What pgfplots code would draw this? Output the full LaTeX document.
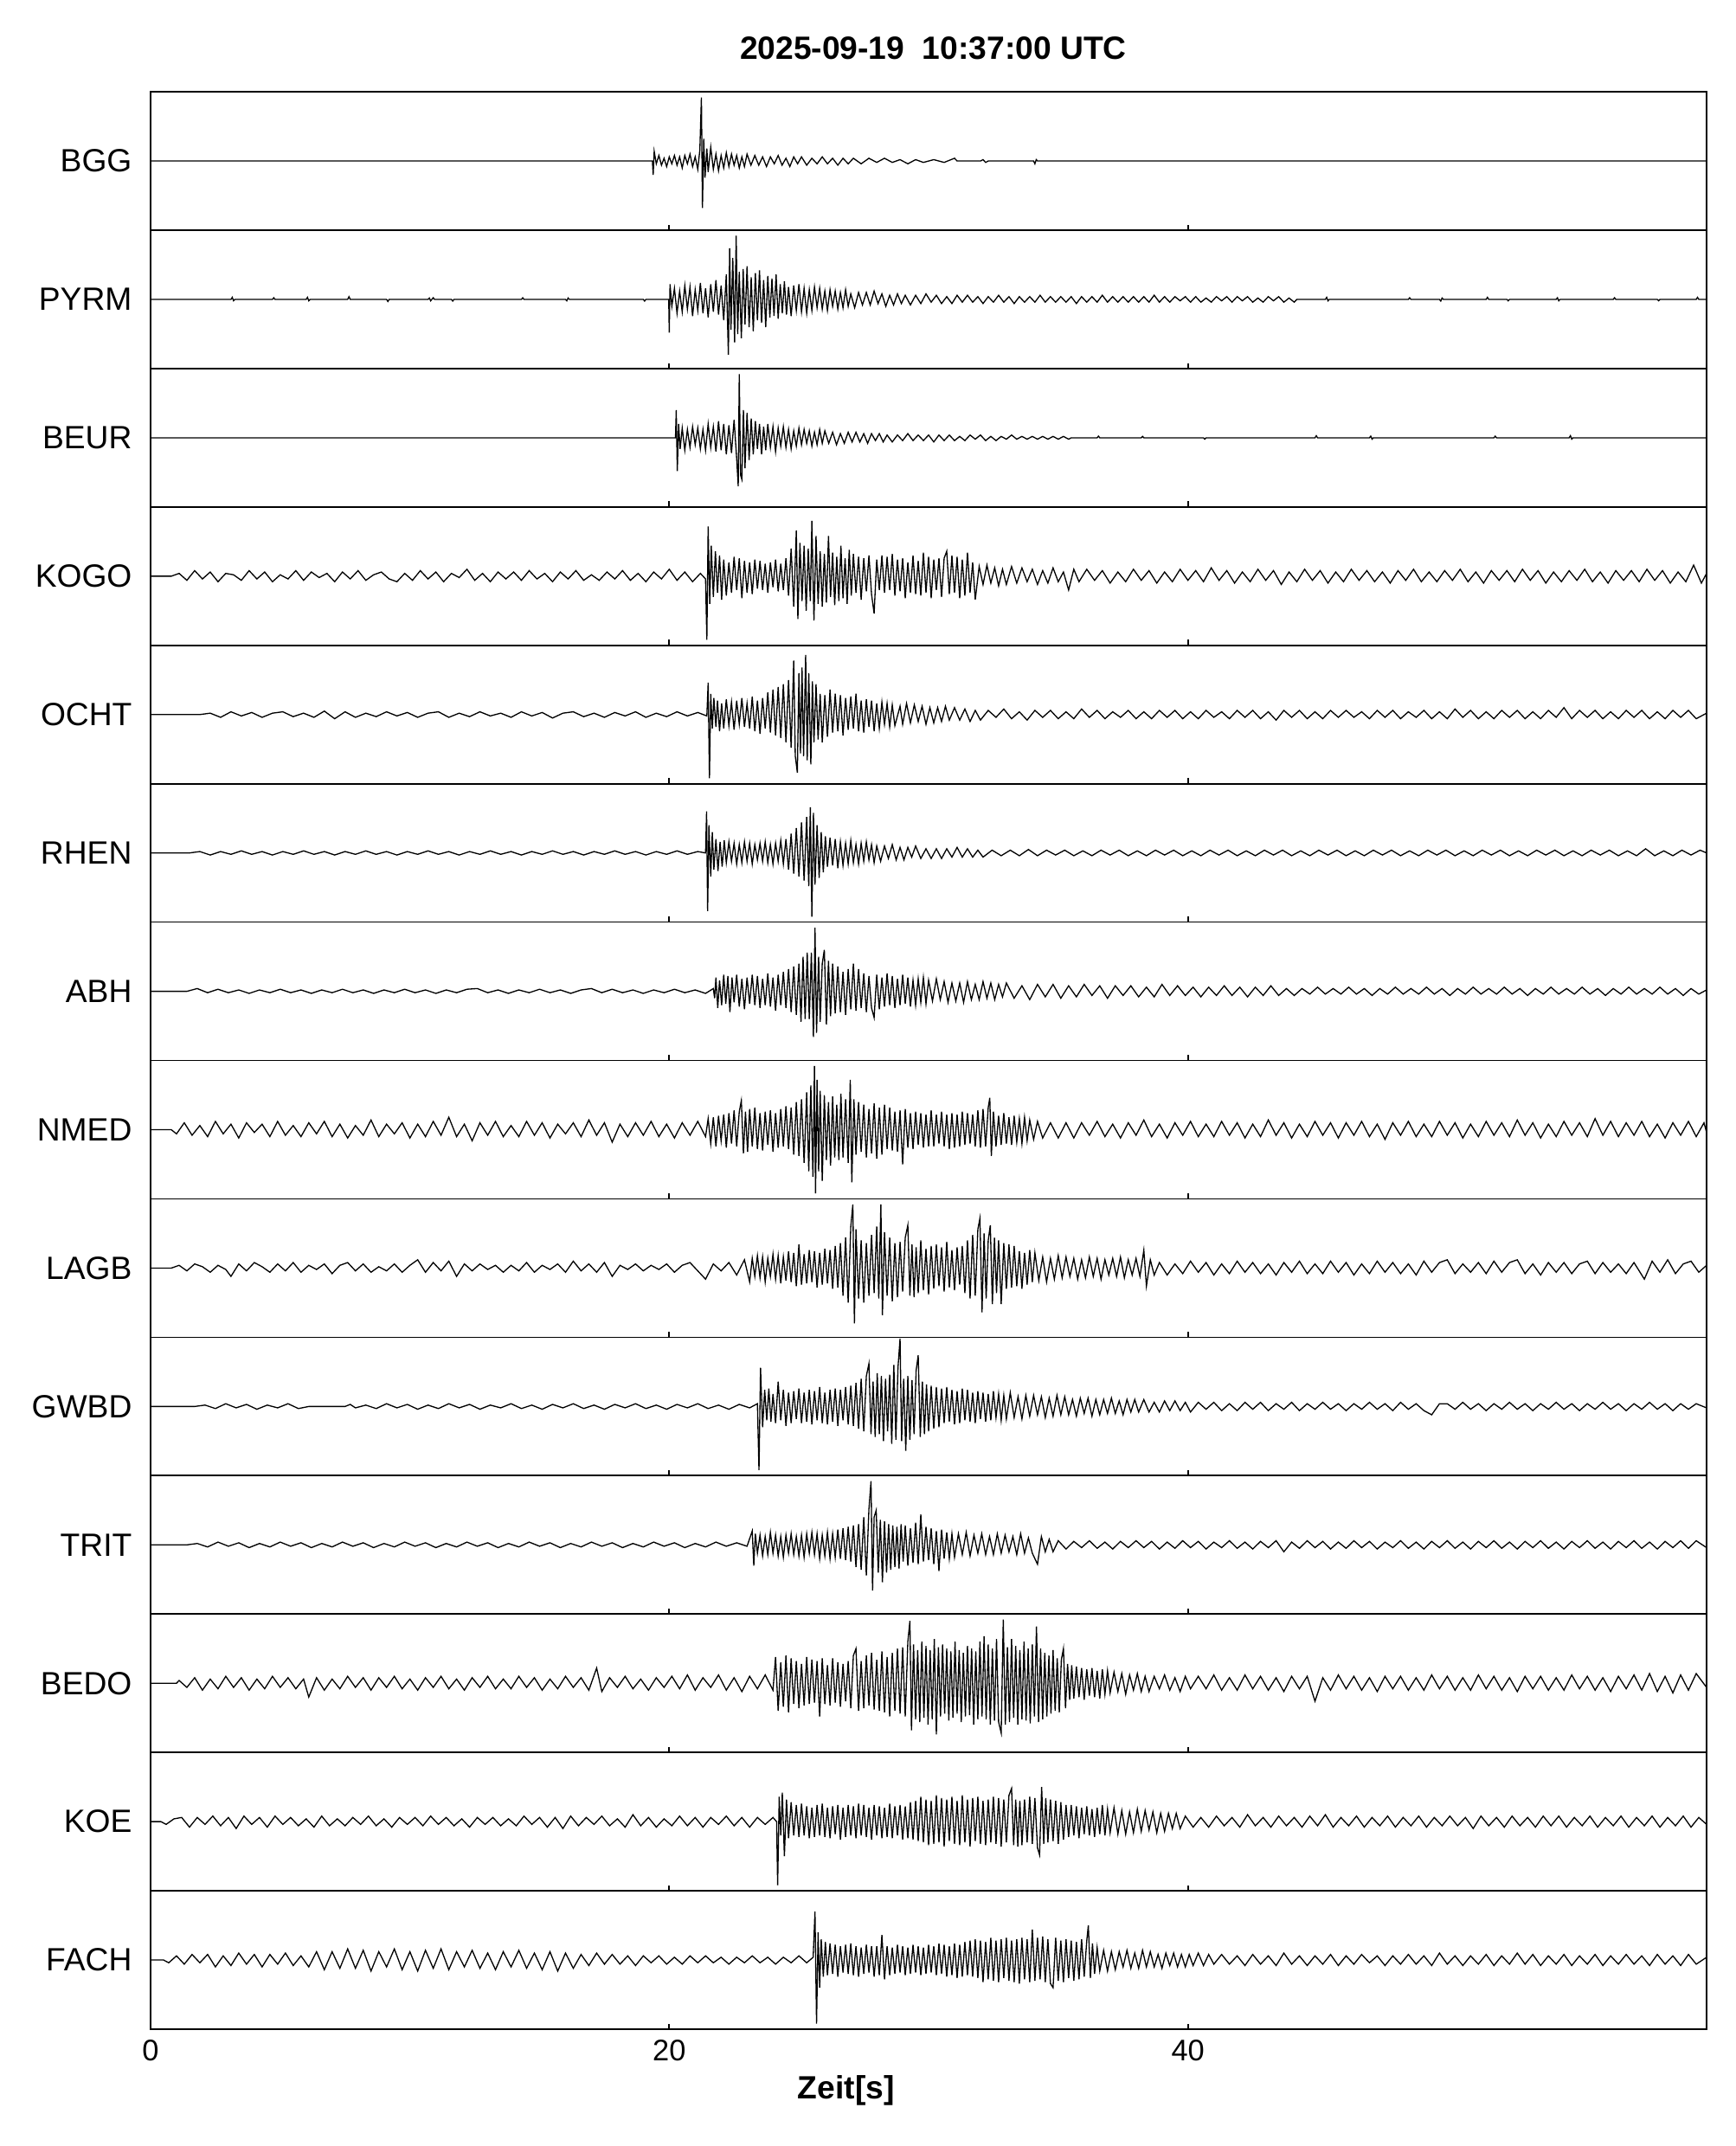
\documentclass[border=0pt]{standalone}
\usepackage{fontspec}
\setmainfont{Liberation Sans}
\usepackage{pgfplots}
\pgfplotsset{compat=1.18}
\usepgfplotslibrary{groupplots}
\begin{document}
\begin{tikzpicture}
\begin{groupplot}[
  group style={group size=1 by 14, vertical sep=0pt, xticklabels at=edge bottom},
  width=449.5pt, height=39.98pt, scale only axis,
  xmin=0, xmax=60, ymin=-0.5, ymax=0.5,
  xtick={0,20,40}, xtick pos=bottom, tick align=inside, major tick length=1.6pt,
  xtick style={black, line width=0.42pt},
  ytick={0}, ytick style={draw=none},
  yticklabel style={font=\fontsize{9.3}{11}\selectfont, anchor=east, inner sep=0pt, xshift=-5.2pt},
  xticklabel style={font=\fontsize{8.6}{10}\selectfont, anchor=north, inner sep=0pt, yshift=-2.8pt},
  /pgf/number format/assume math mode=true,
  axis line style={line width=0.42pt},
  every axis plot post/.append style={black, line width=0.33pt, mark=none},
]
%----------------------------------------------------- BGG
\nextgroupplot[yticklabels={BGG}, title={2025-09-19\ \ 10:37:00 UTC},
  title style={at={(0.503,1)}, anchor=base, yshift=3.5pt, inner sep=0pt, font=\fontsize{9.3}{11}\selectfont\bfseries}]
\addplot table {
0 0
19.35 0
19.38 -.1
19.42 .07
19.5 -.02
19.6 .04
19.7 -.03
19.8 .02
19.9 -.04
20.0 .03
20.1 -.02
20.2 .04
20.3 -.03
20.4 .03
20.5 -.05
20.6 .04
20.7 -.02
20.8 .05
20.9 -.04
21.0 .03
21.1 -.06
21.18 .08
21.24 .46
21.28 -.34
21.33 .16
21.38 -.12
21.45 .09
21.5 -.08
21.6 .1
21.7 -.06
21.8 .05
21.9 -.07
22.0 .04
22.1 -.05
22.2 .06
22.3 -.04
22.4 .05
22.5 -.03
22.6 .04
22.7 -.05
22.8 .03
22.9 -.04
23.0 .05
23.15 -.03
23.3 .04
23.45 -.03
23.6 .03
23.75 -.04
23.9 .03
24.05 -.02
24.2 .04
24.35 -.03
24.5 .02
24.65 -.04
24.8 .03
24.95 -.02
25.1 .03
25.3 -.03
25.5 .02
25.7 -.02
25.9 .03
26.1 -.02
26.3 .02
26.5 -.03
26.7 .02
26.9 -.02
27.1 .02
27.4 -.02
27.7 .02
28.0 -.01
28.3 .02
28.6 -.01
28.9 .01
29.2 -.02
29.5 .01
29.8 -.01
30.2 .01
30.6 -.01
31.0 .02
31.1 0
32.0 0
32.1 .01
32.2 -.01
32.3 0
34.05 0
34.1 -.02
34.15 .01
34.2 0
60 0
};
%----------------------------------------------------- PYRM
\nextgroupplot[yticklabels={PYRM}]
\addplot table {
0 0
3.1 0
3.15 .015
3.2 -.01
3.25 0
4.7 0
4.75 .012
4.8 0
6.0 0
6.05 .015
6.1 -.01
6.15 0
7.6 0
7.65 .02
7.7 0
9.1 0
9.15 -.015
9.2 0
10.7 0
10.75 .01
10.8 -.01
10.9 .012
10.95 0
11.6 0
11.65 -.012
11.7 0
14.3 0
14.35 .012
14.4 0
16.0 0
16.05 -.01
16.1 .01
16.15 0
19.0 0
19.05 -.012
19.1 0
19.98 0
20.0 -.24
20.03 .11
20.1 -.05
20.2 .08
20.3 -.1
20.4 .06
20.5 -.09
20.6 .1
20.7 -.07
20.8 .09
20.9 -.12
21.0 .07
21.1 -.08
21.2 .12
21.3 -.1
21.4 .08
21.5 -.13
21.6 .11
21.7 -.09
21.8 .14
21.9 -.11
22.0 .1
22.1 -.15
22.2 .18
22.28 -.4
22.33 .37
22.38 -.22
22.45 .3
22.52 -.31
22.58 .46
22.64 -.25
22.7 .2
22.78 -.28
22.85 .22
22.92 -.18
23.0 .24
23.08 -.2
23.16 .16
23.24 -.23
23.32 .19
23.4 -.15
23.48 .21
23.56 -.17
23.64 .14
23.72 -.2
23.8 .17
23.88 -.13
23.96 .15
24.04 -.12
24.12 .18
24.2 -.14
24.28 .11
24.36 -.1
24.44 .13
24.52 -.11
24.6 .09
24.7 -.12
24.8 .1
24.9 -.08
25.0 .11
25.1 -.09
25.2 .08
25.3 -.1
25.4 .07
25.5 -.08
25.6 .09
25.7 -.06
25.8 .08
25.9 -.07
26.0 .06
26.1 -.08
26.2 .07
26.3 -.05
26.4 .06
26.5 -.07
26.6 .05
26.7 -.06
26.8 .07
26.9 -.05
27.0 .04
27.15 -.06
27.3 .05
27.45 -.04
27.6 .05
27.75 -.04
27.9 .06
28.05 -.03
28.2 .04
28.35 -.05
28.5 .03
28.65 -.04
28.8 .04
28.95 -.03
29.1 .03
29.3 -.04
29.5 .03
29.7 -.03
29.9 .04
30.1 -.02
30.3 .03
30.5 -.03
30.7 .02
30.9 -.03
31.1 .03
31.3 -.02
31.5 .03
31.7 -.02
31.9 .02
32.1 -.03
32.3 .02
32.5 -.02
32.7 .03
32.9 -.02
33.1 .02
33.3 -.03
33.5 .02
33.7 -.02
33.9 .02
34.1 -.02
34.3 .03
34.5 -.02
34.7 .02
34.9 -.02
35.1 .02
35.3 -.02
35.5 .02
35.7 -.03
35.9 .02
36.1 -.02
36.3 .02
36.5 -.02
36.7 .03
36.9 -.02
37.1 .02
37.3 -.02
37.5 .02
37.7 -.02
37.9 .02
38.1 -.02
38.3 .02
38.5 -.02
38.7 .03
38.9 -.02
39.1 .02
39.3 -.02
39.5 .02
39.7 -.01
39.9 .02
40.1 -.02
40.3 .02
40.5 -.02
40.7 .01
40.9 -.02
41.1 .02
41.3 -.01
41.5 .02
41.7 -.02
41.9 .02
42.1 -.01
42.3 .02
42.5 -.02
42.7 .01
42.9 -.02
43.1 .02
43.3 -.01
43.5 .02
43.7 -.02
43.9 .01
44.1 -.02
44.2 0
45.3 0
45.35 .015
45.4 -.01
45.45 0
48.5 0
48.55 .012
48.6 0
49.7 0
49.75 -.012
49.8 .01
49.85 0
51.5 0
51.55 .015
51.6 0
52.3 0
52.35 -.01
52.4 0
54.2 0
54.25 .012
54.3 -.01
54.35 0
56.4 0
56.45 .012
56.5 0
58.1 0
58.15 -.01
58.2 0
59.6 0
59.65 .015
59.7 0
60 0
};
%----------------------------------------------------- BEUR
\nextgroupplot[yticklabels={BEUR}]
\addplot table {
0 0
20.24 0
20.27 .2
20.31 -.24
20.36 .1
20.42 -.08
20.5 .07
20.6 -.09
20.7 .06
20.8 -.07
20.9 .08
21.0 -.05
21.1 .07
21.2 -.08
21.3 .06
21.4 -.09
21.5 .1
21.6 -.07
21.7 .08
21.8 -.1
21.9 .12
22.0 -.09
22.1 .1
22.2 -.12
22.3 .09
22.4 -.11
22.5 .13
22.6 -.15
22.66 -.35
22.7 .46
22.75 -.27
22.8 -.3
22.86 .2
22.92 -.22
23.0 .18
23.08 -.16
23.16 .14
23.24 -.12
23.32 .12
23.4 -.08
23.48 .1
23.56 -.12
23.64 .08
23.72 -.09
23.8 .1
23.9 -.07
24.0 .08
24.1 -.1
24.2 .07
24.3 -.06
24.4 .08
24.5 -.07
24.6 .06
24.7 -.08
24.8 .05
24.9 -.06
25.0 .07
25.1 -.05
25.2 .06
25.3 -.04
25.4 .05
25.5 -.06
25.6 .04
25.7 -.05
25.8 .06
25.9 -.04
26.0 .05
26.15 -.04
26.3 .04
26.45 -.05
26.6 .03
26.75 -.04
26.9 .04
27.05 -.03
27.2 .04
27.35 -.03
27.5 .03
27.65 -.04
27.8 .03
27.95 -.02
28.1 .03
28.25 -.03
28.4 .02
28.6 -.03
28.8 .02
29.0 -.02
29.2 .03
29.4 -.02
29.6 .02
29.8 -.02
30.0 .02
30.2 -.03
30.4 .02
30.6 -.02
30.8 .02
31.0 -.02
31.2 .01
31.4 -.02
31.6 .02
31.8 -.01
32.0 .02
32.2 -.02
32.4 .01
32.6 -.02
32.8 .01
33.0 -.01
33.2 .02
33.4 -.01
33.6 .01
33.8 -.01
34.0 .01
34.2 -.01
34.4 .01
34.6 -.01
34.8 .01
35.0 -.01
35.2 .01
35.4 -.01
35.5 0
36.5 0
36.55 .012
36.6 0
38.2 0
38.25 .01
38.3 0
40.6 0
40.65 -.01
40.7 0
44.9 0
44.95 .015
45.0 0
47.0 0
47.05 .012
47.1 -.01
47.15 0
51.8 0
51.85 .012
51.9 0
54.7 0
54.75 .015
54.8 -.01
54.85 0
60 0
};
%----------------------------------------------------- KOGO
\nextgroupplot[yticklabels={KOGO}]
\addplot table {
0 0
0.8 0
1.1 .02
1.4 -.03
1.7 .04
2.0 -.02
2.3 .03
2.6 -.04
2.9 .02
3.2 .01
3.5 -.03
3.8 .04
4.1 -.02
4.4 .03
4.7 -.04
5.0 .01
5.3 -.02
5.6 .04
5.9 -.03
6.2 .03
6.5 -.01
6.8 .02
7.1 -.04
7.4 .03
7.7 -.02
8.0 .04
8.3 -.03
8.6 .01
8.9 .03
9.2 -.02
9.5 -.04
9.8 .02
10.1 -.03
10.4 .04
10.7 -.02
11.0 .03
11.3 -.04
11.6 .02
11.9 -.01
12.2 .05
12.5 -.03
12.8 .02
13.1 -.04
13.4 .03
13.7 -.02
14.0 .03
14.3 -.03
14.6 .04
14.9 -.02
15.2 .02
15.5 -.04
15.8 .03
16.1 -.02
16.4 .04
16.7 -.03
17.0 .01
17.3 -.03
17.6 .03
17.9 -.02
18.2 .04
18.5 -.03
18.8 .02
19.1 -.04
19.4 .03
19.7 -.02
20.0 .05
20.3 -.03
20.6 .03
20.9 -.04
21.2 .02
21.4 -.02
21.45 -.46
21.5 .36
21.56 -.2
21.62 .22
21.7 -.15
21.78 .18
21.86 -.12
21.94 .15
22.02 -.17
22.1 .12
22.2 -.14
22.3 .1
22.4 -.12
22.5 .14
22.6 -.1
22.7 .13
22.8 -.16
22.9 .11
23.0 -.12
23.1 .1
23.2 -.13
23.3 .12
23.4 -.09
23.5 .11
23.6 -.1
23.7 .09
23.8 -.12
23.9 .1
24.0 -.08
24.1 .12
24.2 -.11
24.3 .09
24.4 -.1
24.5 .13
24.6 -.14
24.7 .2
24.8 -.22
24.9 .33
24.96 -.31
25.04 .24
25.12 -.18
25.2 .22
25.28 -.25
25.36 .2
25.44 -.18
25.5 .4
25.58 -.32
25.66 .29
25.74 -.2
25.82 .18
25.9 -.22
25.98 .16
26.06 -.19
26.14 .29
26.22 -.15
26.3 .17
26.38 -.21
26.46 .14
26.54 -.18
26.62 .22
26.7 -.16
26.78 .13
26.86 -.2
26.94 .19
27.02 -.14
27.1 .16
27.2 -.12
27.3 .14
27.4 -.17
27.5 .13
27.6 -.11
27.7 .15
27.8 -.13
27.9 -.27
28.0 .12
28.1 -.1
28.2 .15
28.3 -.12
28.4 .14
28.5 -.1
28.6 .16
28.7 -.14
28.8 .12
28.9 -.11
29.0 .13
29.1 -.16
29.2 .1
29.3 -.12
29.4 .15
29.5 -.13
29.6 .11
29.7 -.14
29.8 .17
29.9 -.12
30.0 .14
30.1 -.16
30.2 .12
30.3 -.1
30.4 .13
30.5 -.15
30.6 .13
30.7 .18
30.8 -.13
30.9 .15
31.0 -.12
31.1 .14
31.2 -.16
31.3 .12
31.4 -.14
31.5 .17
31.6 -.12
31.7 .1
31.8 -.17
31.95 .07
32.1 -.06
32.25 .08
32.4 -.05
32.55 .06
32.7 -.07
32.85 .05
33.0 -.06
33.2 .07
33.4 -.05
33.6 .06
33.8 -.04
34.0 .05
34.2 -.06
34.4 .04
34.6 -.05
34.8 .06
35.0 -.04
35.2 .03
35.4 -.1
35.6 .05
35.8 -.04
36.1 .05
36.4 -.03
36.7 .04
37.0 -.05
37.3 .03
37.6 -.04
37.9 .05
38.2 -.03
38.5 .04
38.8 -.05
39.1 .03
39.4 -.04
39.7 .05
40.0 -.03
40.3 .04
40.6 -.04
40.9 .06
41.2 -.03
41.5 .04
41.8 -.05
42.1 .03
42.4 -.04
42.7 .05
43.0 -.03
43.3 .04
43.6 -.06
43.9 .03
44.2 -.04
44.5 .05
44.8 -.03
45.1 .04
45.4 -.05
45.7 .03
46.0 -.04
46.3 .05
46.6 -.03
46.9 .04
47.2 -.04
47.5 .03
47.8 -.05
48.1 .04
48.4 -.03
48.7 .05
49.0 -.04
49.3 .03
49.6 -.04
49.9 .04
50.2 -.03
50.5 .05
50.8 -.04
51.1 .03
51.4 -.05
51.7 .04
52.0 -.03
52.3 .04
52.6 -.04
52.9 .05
53.2 -.03
53.5 .04
53.8 -.05
54.1 .03
54.4 -.04
54.7 .04
55.0 -.03
55.3 .05
55.6 -.04
55.9 .03
56.2 -.05
56.5 .04
56.8 -.03
57.1 .04
57.4 -.04
57.7 .05
58.0 -.03
58.3 .04
58.6 -.05
58.9 .03
59.2 -.04
59.5 .08
59.8 -.05
60 .02
};
%----------------------------------------------------- OCHT
\nextgroupplot[yticklabels={OCHT}]
\addplot table {
0 0
1.9 0
2.3 .01
2.7 -.02
3.1 .02
3.5 -.01
3.9 .015
4.3 -.02
4.7 .01
5.1 .02
5.5 -.015
5.9 .01
6.3 -.02
6.7 .025
7.1 -.03
7.5 .02
7.9 -.02
8.3 .01
8.7 -.015
9.1 .02
9.5 -.01
9.9 .015
10.3 -.02
10.7 .01
11.1 .02
11.5 -.02
11.9 .01
12.3 -.015
12.7 .02
13.1 -.01
13.5 .01
13.9 -.02
14.3 .02
14.7 -.01
15.1 .015
15.5 -.025
15.9 .01
16.3 .02
16.7 -.015
17.1 .01
17.5 -.02
17.9 .015
18.3 -.01
18.7 .02
19.1 -.02
19.5 .01
19.9 -.015
20.3 .02
20.7 -.01
21.1 .015
21.45 -.01
21.5 .23
21.55 -.46
21.6 .15
21.66 -.1
21.72 .12
21.8 -.09
21.86 .1
21.94 -.12
22.02 .08
22.1 -.1
22.2 .11
22.3 -.08
22.4 .09
22.5 -.11
22.6 .1
22.7 -.07
22.8 .12
22.9 -.09
23.0 .08
23.1 -.1
23.2 .13
23.3 -.12
23.4 .1
23.5 -.14
23.6 .12
23.7 -.1
23.8 .16
23.9 -.13
24.0 .18
24.1 -.15
24.2 .2
24.3 -.17
24.4 .22
24.5 -.2
24.6 .25
24.7 -.24
24.8 .39
24.86 -.3
24.94 -.42
25.0 .3
25.06 -.28
25.12 .34
25.18 -.3
25.26 .43
25.32 -.33
25.38 .3
25.46 -.36
25.52 .24
25.58 -.2
25.66 .22
25.74 -.18
25.82 .15
25.9 -.2
26.0 .14
26.1 -.16
26.2 .18
26.3 -.13
26.4 .15
26.5 -.12
26.6 .14
26.7 -.15
26.8 .12
26.9 -.11
27.0 .13
27.1 -.1
27.2 .15
27.3 -.12
27.4 .1
27.5 -.13
27.6 .11
27.7 -.09
27.8 .1
27.9 -.12
28.0 .08
28.1 -.1
28.2 .09
28.3 -.07
28.4 .08
28.5 -.09
28.6 .07
28.7 -.08
28.9 .06
29.0 -.07
29.15 .08
29.3 -.06
29.45 .07
29.6 -.05
29.75 .06
29.9 -.07
30.05 .05
30.2 -.06
30.35 .05
30.5 -.05
30.65 .06
30.8 -.04
31.0 .05
31.2 -.04
31.4 .04
31.6 -.05
31.8 .03
32.0 -.04
32.3 .03
32.6 -.02
32.9 .04
33.2 -.03
33.5 .02
33.8 -.04
34.1 .03
34.4 -.02
34.7 .03
35.0 -.03
35.3 .02
35.6 -.03
35.9 .04
36.2 -.02
36.5 .03
36.8 -.03
37.1 .02
37.4 -.02
37.7 .03
38.0 -.03
38.3 .02
38.6 -.03
38.9 .03
39.2 -.02
39.5 .03
39.8 -.03
40.1 .02
40.4 -.03
40.7 .03
41.0 -.02
41.3 .02
41.6 -.03
41.9 .03
42.2 -.02
42.5 .03
42.8 -.03
43.1 .02
43.4 -.04
43.7 .03
44.0 -.02
44.3 .03
44.6 -.03
44.9 .02
45.2 -.03
45.5 .03
45.8 -.02
46.1 .03
46.4 -.02
46.7 .02
47.0 -.03
47.3 .03
47.6 -.02
47.9 .03
48.2 -.03
48.5 .02
48.8 -.02
49.1 .03
49.4 -.03
49.7 .02
50.0 -.03
50.3 .04
50.6 -.02
50.9 .03
51.2 -.03
51.5 .02
51.8 -.03
52.1 .03
52.4 -.02
52.7 .03
53.0 -.03
53.3 .02
53.6 -.03
53.9 .03
54.2 -.02
54.5 .05
54.8 -.03
55.1 .03
55.4 -.02
55.7 .03
56.0 -.03
56.3 .02
56.6 -.03
56.9 .03
57.2 -.02
57.5 .03
57.8 -.03
58.1 .02
58.4 -.03
58.7 .03
59.0 -.02
59.3 .03
59.6 -.03
60 .01
};
%----------------------------------------------------- RHEN
\nextgroupplot[yticklabels={RHEN}]
\addplot table {
0 0
1.5 0
1.9 .01
2.3 -.015
2.7 .01
3.1 -.01
3.5 .015
3.9 -.01
4.3 .01
4.7 -.015
5.1 .01
5.5 -.01
5.9 .015
6.3 -.01
6.7 .01
7.1 -.015
7.5 .01
7.9 -.01
8.3 .015
8.7 -.01
9.1 .01
9.5 -.015
9.9 .01
10.3 -.01
10.7 .015
11.1 -.01
11.5 .01
11.9 -.015
12.3 .01
12.7 -.01
13.1 .015
13.5 -.01
13.9 .01
14.3 -.015
14.7 .01
15.1 -.01
15.5 .015
15.9 -.01
16.3 .01
16.7 -.015
17.1 .01
17.5 -.01
17.9 .015
18.3 -.01
18.7 .01
19.1 -.015
19.5 .01
19.9 -.01
20.3 .015
20.7 -.01
21.1 .01
21.4 0
21.44 .3
21.48 -.42
21.53 .2
21.6 -.17
21.66 .15
21.72 -.12
21.8 .1
21.88 -.13
21.96 .08
22.04 -.1
22.12 .09
22.2 -.07
22.3 .08
22.4 -.06
22.5 .07
22.6 -.08
22.7 .06
22.8 -.07
22.9 .08
23.0 -.06
23.1 .07
23.2 -.08
23.3 .06
23.4 -.05
23.5 .07
23.6 -.06
23.7 .08
23.8 -.07
23.9 .06
24.0 -.08
24.1 .07
24.2 -.06
24.3 .09
24.4 -.08
24.5 .1
24.6 -.12
24.7 .14
24.8 -.15
24.9 .18
25.0 -.17
25.1 .22
25.2 -.2
25.3 .26
25.38 -.24
25.44 .33
25.5 -.46
25.56 .29
25.62 -.23
25.7 .2
25.78 -.18
25.86 .15
25.94 -.14
26.02 .12
26.1 -.1
26.2 .11
26.3 -.09
26.4 .1
26.5 -.11
26.6 .08
26.7 -.09
26.8 .07
26.9 -.08
27.0 .09
27.1 -.07
27.2 .06
27.3 -.08
27.4 .07
27.5 -.06
27.6 .08
27.7 -.05
27.8 .06
27.9 -.07
28.0 .05
28.15 -.06
28.3 .05
28.45 -.04
28.6 .06
28.75 -.05
28.9 .04
29.05 -.05
29.2 .04
29.35 -.03
29.5 .05
29.7 -.04
29.9 .03
30.1 -.04
30.3 .03
30.5 -.04
30.7 .03
30.9 -.03
31.1 .04
31.3 -.03
31.5 .03
31.7 -.03
31.9 .02
32.1 -.03
32.45 .02
32.8 -.02
33.15 .02
33.5 -.02
33.85 .025
34.2 -.02
34.55 .02
34.9 -.015
35.25 .02
35.6 -.02
35.95 .015
36.3 -.02
36.65 .02
37.0 -.015
37.35 .02
37.7 -.02
38.05 .015
38.4 -.02
38.75 .02
39.1 -.015
39.45 .02
39.8 -.02
40.15 .015
40.5 -.02
40.85 .02
41.2 -.015
41.55 .02
41.9 -.02
42.25 .015
42.6 -.02
42.95 .02
43.3 -.015
43.65 .02
44.0 -.02
44.35 .015
44.7 -.02
45.05 .02
45.4 -.015
45.75 .02
46.1 -.02
46.45 .015
46.8 -.02
47.15 .02
47.5 -.015
47.85 .02
48.2 -.02
48.55 .015
48.9 -.02
49.25 .02
49.6 -.015
49.95 .02
50.3 -.02
50.65 .015
51.0 -.02
51.35 .02
51.7 -.015
52.05 .02
52.4 -.02
52.75 .015
53.1 -.02
53.45 .02
53.8 -.015
54.15 .02
54.5 -.02
54.85 .015
55.2 -.02
55.55 .02
55.9 -.015
56.25 .02
56.6 -.02
56.95 .015
57.3 -.02
57.65 .03
58.0 -.02
58.35 .015
58.7 -.02
59.05 .02
59.4 -.015
59.75 .02
60 0
};
%----------------------------------------------------- ABH
\nextgroupplot[yticklabels={ABH}]
\addplot table {
0 0
1.4 0
1.8 .02
2.2 -.01
2.6 .015
3.0 -.01
3.4 .01
3.8 -.015
4.2 .01
4.6 -.01
5.0 .015
5.4 -.01
5.8 .01
6.2 -.015
6.6 .01
7.0 -.01
7.4 .015
7.8 -.01
8.2 .01
8.6 -.015
9.0 .01
9.4 -.01
9.8 .015
10.2 -.01
10.6 .01
11.0 -.015
11.4 .01
11.8 -.01
12.2 .015
12.6 .02
13.0 -.01
13.4 .01
13.8 -.015
14.2 .01
14.6 -.01
15.0 .015
15.4 -.01
15.8 .01
16.2 -.015
16.6 .01
17.0 .02
17.4 -.01
17.8 .015
18.2 -.01
18.6 .01
19.0 -.015
19.4 .01
19.8 -.01
20.2 .015
20.6 -.01
21.0 .01
21.4 -.015
21.7 .02
21.75 -.05
21.8 .1
21.87 -.12
21.94 .08
22.02 -.1
22.1 .12
22.18 -.09
22.26 .11
22.34 -.15
22.42 .1
22.5 -.08
22.6 .12
22.7 -.11
22.8 .09
22.9 -.13
23.0 .1
23.1 -.09
23.2 .12
23.3 -.1
23.4 .11
23.5 -.12
23.6 .09
23.7 -.1
23.8 .13
23.9 -.11
24.0 .1
24.1 -.14
24.2 .12
24.3 -.1
24.4 .14
24.5 -.12
24.6 .16
24.7 -.15
24.8 .18
24.9 -.17
25.0 .2
25.08 -.22
25.16 .25
25.24 -.2
25.32 .28
25.4 -.2
25.48 .28
25.56 -.33
25.62 .46
25.68 -.3
25.76 .25
25.82 -.22
25.9 .2
25.98 .3
26.06 -.24
26.14 .22
26.22 -.18
26.3 .2
26.4 -.16
26.5 .18
26.6 -.15
26.7 .14
26.8 -.17
26.9 .16
27.0 -.13
27.1 .2
27.2 -.14
27.3 .16
27.4 -.12
27.5 .13
27.6 -.15
27.7 .11
27.8 -.12
27.9 -.19
28.0 .12
28.1 -.13
28.2 .1
28.3 -.11
28.4 .13
28.5 -.1
28.6 .11
28.7 -.12
28.8 .09
28.9 -.1
29.0 .12
29.1 -.09
29.2 .1
29.3 -.11
29.4 .08
29.5 -.1
29.6 .09
29.7 -.08
29.8 .1
29.9 -.09
30.0 .08
30.15 -.07
30.3 .09
30.45 -.06
30.6 .07
30.75 -.08
30.9 .06
31.05 -.07
31.2 .06
31.35 -.08
31.5 .07
31.65 -.06
31.8 .05
31.95 -.06
32.1 .07
32.25 -.05
32.4 .06
32.55 -.06
32.7 .05
32.85 -.04
33.0 .06
33.3 -.05
33.6 .04
33.9 -.06
34.2 .05
34.5 -.04
34.8 .05
35.1 -.05
35.4 .04
35.7 -.04
36.0 .05
36.3 -.03
36.6 .04
36.9 -.05
37.2 .04
37.5 -.03
37.8 .04
38.1 -.04
38.4 .03
38.7 -.04
39.0 .05
39.3 -.03
39.6 .04
39.9 -.03
40.2 .03
40.5 -.04
40.8 .03
41.1 -.03
41.4 .04
41.7 -.03
42.0 .03
42.3 -.04
42.6 .03
42.9 -.03
43.2 .04
43.5 -.03
43.8 .02
44.1 -.03
44.4 .02
44.7 -.02
45.0 .03
45.3 -.02
45.6 .02
45.9 -.02
46.2 .03
46.5 -.02
46.8 .02
47.1 -.03
47.4 .02
47.7 -.02
48.0 .03
48.3 -.02
48.6 .02
48.9 -.02
49.2 .03
49.5 -.02
49.8 .02
50.1 -.03
50.4 .02
50.7 -.02
51.0 .03
51.3 -.02
51.6 .02
51.9 -.02
52.2 .03
52.5 -.02
52.8 .02
53.1 -.03
53.4 .02
53.7 -.02
54.0 .03
54.3 -.02
54.6 .02
54.9 -.02
55.2 .03
55.5 -.02
55.8 .02
56.1 -.03
56.4 .02
56.7 -.02
57.0 .03
57.3 -.02
57.6 .02
57.9 -.02
58.2 .03
58.5 -.02
58.8 .02
59.1 -.03
59.4 .02
59.7 -.02
60 .01
};
%----------------------------------------------------- NMED
\nextgroupplot[yticklabels={NMED}]
\addplot table {
0 0
0.8 0
1.0 -.03
1.3 .05
1.6 -.04
1.9 .03
2.2 -.05
2.5 .06
2.8 -.03
3.1 .04
3.4 -.06
3.7 .05
4.0 -.02
4.3 .04
4.6 -.05
4.9 .06
5.2 -.04
5.5 .03
5.8 -.05
6.1 .05
6.4 -.03
6.7 .06
7.0 -.05
7.3 .04
7.6 -.06
7.9 .03
8.2 -.04
8.5 .07
8.8 -.05
9.1 .04
9.4 -.03
9.7 .05
10.0 -.06
10.3 .04
10.6 -.05
10.9 .06
11.2 -.04
11.5 .09
11.8 -.05
12.1 .04
12.4 -.08
12.7 .05
13.0 -.04
13.3 .06
13.6 -.05
13.9 .03
14.2 -.05
14.5 .06
14.8 -.04
15.1 .05
15.4 -.06
15.7 .04
16.0 -.03
16.3 .05
16.6 -.05
16.9 .07
17.2 -.04
17.5 .05
17.8 -.09
18.1 .04
18.4 -.05
18.7 .05
19.0 -.04
19.3 .06
19.6 -.05
19.9 .04
20.2 -.06
20.5 .05
20.8 -.04
21.1 .06
21.4 -.05
21.5 .08
21.6 -.1
21.7 .09
21.8 -.12
21.9 .1
22.0 -.08
22.1 .11
22.2 -.13
22.3 .12
22.4 -.1
22.5 .14
22.6 -.12
22.7 .13
22.78 .21
22.86 -.17
22.94 .13
23.02 -.16
23.1 .15
23.2 -.12
23.3 .16
23.4 -.14
23.5 .12
23.6 -.15
23.7 .13
23.8 -.11
23.9 .14
24.0 -.16
24.1 .12
24.2 -.13
24.3 .15
24.4 -.12
24.5 .17
24.6 -.14
24.7 .16
24.8 -.18
24.9 .2
25.0 -.19
25.1 .22
25.2 -.24
25.3 .27
25.38 -.3
25.46 .32
25.54 -.34
25.6 .46
25.64 -.46
25.7 .36
25.76 -.3
25.82 .28
25.9 -.37
25.98 .25
26.06 -.22
26.14 .2
26.22 -.26
26.3 .24
26.38 -.2
26.46 .18
26.54 -.22
26.62 .26
26.7 -.2
26.8 .22
26.9 -.24
26.98 .36
27.04 -.38
27.12 .22
27.2 -.18
27.3 .2
27.4 -.16
27.5 .18
27.6 -.2
27.7 .15
27.8 -.17
27.9 .19
28.0 -.21
28.1 .16
28.2 -.18
28.3 .18
28.4 -.14
28.5 .16
28.6 -.15
28.7 .13
28.8 -.16
28.9 .14
29.0 -.25
29.1 .15
29.2 -.13
29.3 .12
29.4 -.14
29.5 .13
29.6 -.11
29.7 .12
29.8 -.13
29.9 .11
30.0 -.12
30.1 .14
30.2 -.12
30.3 .11
30.4 -.1
30.5 .13
30.6 -.12
30.7 .11
30.8 -.14
30.9 .12
31.0 -.13
31.1 .11
31.2 -.12
31.3 .13
31.4 -.11
31.5 .12
31.6 -.1
31.7 .11
31.8 -.12
31.9 .14
32.0 -.13
32.1 .15
32.2 -.12
32.3 .16
32.36 .23
32.42 -.19
32.5 .13
32.6 -.12
32.7 .1
32.8 -.11
32.9 .12
33.0 -.1
33.1 .09
33.2 -.11
33.3 .1
33.4 -.09
33.5 .08
33.6 -.1
33.7 .09
33.8 -.08
33.9 .07
34.05 -.07
34.2 .06
34.4 -.06
34.7 .05
35.0 -.06
35.3 .05
35.6 -.06
35.9 .05
36.2 -.04
36.5 .06
36.8 -.05
37.1 .04
37.4 -.06
37.7 .05
38.0 -.04
38.3 .07
38.6 -.05
38.9 .04
39.2 -.06
39.5 .05
39.8 -.04
40.1 .06
40.4 -.05
40.7 .04
41.0 -.05
41.3 .06
41.6 -.04
41.9 .05
42.2 -.06
42.5 .04
42.8 -.05
43.1 .07
43.4 -.04
43.7 .05
44.0 -.06
44.3 .04
44.6 -.05
44.9 .06
45.2 -.04
45.5 .05
45.8 -.06
46.1 .05
46.4 -.04
46.7 .06
47.0 -.05
47.3 .04
47.6 -.07
47.9 .05
48.2 -.04
48.5 .06
48.8 -.05
49.1 .04
49.4 -.05
49.7 .06
50.0 -.04
50.3 .05
50.6 -.06
50.9 .04
51.2 -.05
51.5 .06
51.8 -.04
52.1 .05
52.4 -.05
52.7 .07
53.0 -.04
53.3 .05
53.6 -.06
53.9 .04
54.2 -.05
54.5 .06
54.8 -.04
55.1 .05
55.4 -.05
55.7 .08
56.0 -.04
56.3 .06
56.6 -.05
56.9 .05
57.2 -.04
57.5 .06
57.8 -.05
58.1 .04
58.4 -.06
58.7 .05
59.0 -.04
59.3 .06
59.6 -.05
59.9 .05
60 -.02
};
%----------------------------------------------------- LAGB
\nextgroupplot[yticklabels={LAGB}]
\addplot table {
0 0
0.8 0
1.1 .02
1.4 -.02
1.7 .03
2.0 .01
2.3 -.03
2.6 .02
2.9 -.01
3.1 -.06
3.4 .03
3.7 -.02
4.0 .04
4.3 .01
4.6 -.03
4.9 .03
5.2 -.02
5.5 .04
5.8 -.03
6.1 .02
6.4 -.01
6.7 .03
7.0 -.04
7.3 .02
7.6 .04
7.9 -.02
8.2 .03
8.5 -.03
8.8 .01
9.1 -.02
9.4 .03
9.7 -.03
10.0 .02
10.3 .06
10.6 -.03
10.9 .04
11.2 -.02
11.5 .05
11.8 -.06
12.1 .03
12.4 -.02
12.7 .03
13.0 -.01
13.3 .02
13.6 -.03
13.9 .02
14.2 -.02
14.5 .04
14.8 -.03
15.1 .02
15.4 -.01
15.7 .03
16.0 -.03
16.3 .05
16.6 -.02
16.9 .03
17.2 -.03
17.5 .04
17.8 -.06
18.1 .02
18.4 -.01
18.7 .03
19.0 -.02
19.3 .02
19.6 -.01
19.9 .03
20.2 -.03
20.5 .02
20.8 .04
21.1 -.02
21.4 -.08
21.7 .03
22.0 -.02
22.3 .04
22.6 -.05
22.9 .06
23.1 -.1
23.2 .07
23.3 -.06
23.4 .09
23.5 -.07
23.6 .08
23.7 -.1
23.8 .07
23.9 -.06
24.0 .1
24.1 -.08
24.2 .09
24.3 -.11
24.4 .08
24.5 -.09
24.6 .12
24.7 -.1
24.8 .11
24.9 -.13
25.0 .17
25.1 -.12
25.2 .1
25.3 -.11
25.4 .13
25.5 -.1
25.6 .12
25.7 -.14
25.8 .11
25.9 -.12
26.0 .14
26.1 -.11
26.2 .13
26.3 -.15
26.4 .16
26.5 -.14
26.6 .18
26.7 -.2
26.8 .22
26.9 -.25
27.0 .3
27.08 .46
27.14 -.4
27.2 .28
27.3 -.22
27.4 .2
27.5 -.25
27.6 .18
27.7 -.2
27.8 .24
27.9 -.18
28.0 .3
28.08 -.22
28.16 .46
28.22 -.34
28.3 .26
28.4 -.2
28.5 .22
28.6 -.24
28.7 .18
28.8 -.21
28.9 .19
29.0 -.17
29.1 .22
29.2 .31
29.28 -.2
29.36 .17
29.44 -.21
29.52 .15
29.6 -.18
29.7 .2
29.8 -.16
29.9 .14
30.0 -.19
30.1 .16
30.2 -.15
30.3 .17
30.4 -.13
30.5 .15
30.6 -.17
30.7 .19
30.8 -.14
30.9 .13
31.0 -.16
31.1 .15
31.2 -.12
31.3 .16
31.4 -.18
31.5 .2
31.6 -.22
31.7 .24
31.8 -.2
31.9 .28
31.98 .36
32.06 -.32
32.14 .25
32.22 -.22
32.3 .2
32.38 .31
32.46 -.26
32.54 .22
32.62 -.18
32.7 .2
32.8 -.26
32.9 .18
33.0 -.15
33.1 .17
33.2 -.14
33.3 .16
33.4 -.13
33.5 .12
33.6 -.15
33.7 .11
33.8 -.12
33.9 .13
34.0 -.1
34.1 .11
34.25 -.09
34.4 .08
34.55 -.1
34.7 .07
34.85 -.08
35.0 .09
35.15 -.07
35.3 .08
35.45 -.06
35.6 .07
35.75 -.08
35.9 .06
36.05 -.07
36.2 .08
36.35 -.06
36.5 .07
36.65 -.08
36.8 .06
36.95 -.05
37.1 .07
37.25 -.06
37.4 .08
37.55 -.07
37.7 .06
37.85 -.05
38.0 .07
38.15 -.06
38.3 .13
38.4 -.13
38.55 .06
38.7 -.05
38.9 .04
39.2 -.05
39.5 .03
39.8 -.04
40.1 .05
40.4 -.03
40.7 .04
41.0 -.05
41.3 .03
41.6 -.04
41.9 .05
42.2 -.03
42.5 .04
42.8 -.04
43.1 .03
43.4 -.05
43.7 .04
44.0 -.03
44.3 .05
44.6 -.04
44.9 .03
45.2 -.04
45.5 .05
45.8 -.03
46.1 .04
46.4 -.05
46.7 .03
47.0 -.04
47.3 .05
47.6 -.03
47.9 .04
48.2 -.04
48.5 .03
48.8 -.05
49.1 .05
49.4 -.03
49.7 .04
50.0 .06
50.3 -.04
50.6 .03
50.9 -.03
51.2 .04
51.5 -.04
51.8 .05
52.1 -.03
52.4 .04
52.7 .06
53.0 -.04
53.3 .03
53.6 -.05
53.9 .04
54.2 -.03
54.5 .04
54.8 -.04
55.1 .03
55.4 .05
55.7 -.04
56.0 .04
56.3 -.03
56.6 .03
56.9 -.04
57.2 .04
57.6 -.08
57.9 .05
58.2 -.03
58.5 .06
58.8 -.04
59.1 .03
59.4 .05
59.7 -.03
60 .02
};
%----------------------------------------------------- GWBD
\nextgroupplot[yticklabels={GWBD}]
\addplot table {
0 0
1.7 0
2.1 .01
2.5 -.015
2.9 .02
3.3 -.01
3.7 .015
4.1 -.02
4.5 .01
4.9 -.01
5.3 .02
5.7 -.015
6.1 0
7.5 0
7.7 .015
7.9 -.01
8.3 .01
8.7 -.015
9.1 .02
9.5 -.01
9.9 .015
10.3 -.02
10.7 .01
11.1 -.015
11.5 .02
11.9 -.01
12.3 .015
12.7 -.02
13.1 .01
13.5 -.01
13.9 .02
14.3 -.015
14.7 .01
15.1 -.02
15.5 .015
15.9 -.01
16.3 .02
16.7 -.015
17.1 .01
17.5 -.02
17.9 .015
18.3 -.01
18.7 .02
19.1 -.015
19.5 .01
19.9 -.02
20.3 .015
20.7 -.01
21.1 .02
21.5 -.015
21.9 .01
22.3 -.02
22.7 .015
23.1 -.01
23.4 .02
23.46 -.46
23.52 .28
23.6 -.15
23.68 .12
23.76 -.1
23.84 .13
23.92 -.11
24.0 .09
24.1 -.12
24.2 .18
24.3 -.1
24.4 .12
24.5 -.14
24.6 .1
24.7 -.12
24.8 .11
24.9 -.09
25.0 .13
25.1 -.12
25.2 .1
25.3 -.11
25.4 .12
25.5 -.13
25.6 .11
25.7 -.1
25.8 .14
25.9 -.12
26.0 .1
26.1 -.13
26.2 .12
26.3 -.11
26.4 .13
26.5 -.14
26.6 .12
26.7 -.1
26.8 .14
26.9 -.13
27.0 .15
27.1 -.14
27.2 .17
27.3 -.16
27.4 .2
27.5 -.18
27.6 .22
27.7 .31
27.78 -.2
27.86 .18
27.94 -.22
28.02 .24
28.1 -.2
28.18 .22
28.26 -.25
28.34 .2
28.42 -.18
28.5 .23
28.58 -.27
28.66 .3
28.74 -.24
28.82 .28
28.9 .49
28.96 -.25
29.04 .2
29.12 -.32
29.2 .22
29.28 -.24
29.36 .19
29.44 -.2
29.52 .26
29.6 .37
29.68 -.22
29.76 .18
29.84 -.2
29.92 .16
30.0 -.18
30.1 .15
30.2 -.16
30.3 .14
30.4 -.15
30.5 .13
30.6 -.12
30.7 .14
30.8 -.11
30.9 .12
31.0 -.13
31.1 .11
31.2 -.12
31.3 .13
31.4 -.1
31.5 .12
31.6 -.11
31.7 .1
31.8 -.12
31.9 .11
32.0 -.09
32.1 .1
32.2 -.11
32.3 .09
32.4 -.1
32.5 .11
32.6 -.08
32.7 .09
32.8 -.1
32.9 .08
33.0 -.09
33.15 .1
33.3 -.08
33.45 .07
33.6 -.09
33.75 .08
33.9 -.07
34.05 .08
34.2 -.06
34.35 .07
34.5 -.08
34.65 .06
34.8 -.07
34.95 .08
35.1 -.06
35.25 .07
35.4 -.06
35.55 .05
35.7 -.07
35.85 .06
36.0 -.05
36.15 .06
36.3 -.07
36.45 .05
36.6 -.06
36.75 .05
36.9 -.05
37.05 .06
37.2 -.05
37.35 .04
37.5 -.06
37.65 .05
37.8 -.04
37.95 .05
38.1 -.04
38.3 .05
38.5 -.04
38.7 .03
38.9 -.04
39.1 .04
39.3 -.03
39.5 .04
39.7 -.03
39.9 .03
40.1 -.04
40.4 .03
40.7 -.02
41.0 .03
41.3 -.03
41.6 .02
41.9 -.03
42.2 .03
42.5 -.02
42.8 .03
43.1 -.03
43.4 .02
43.7 -.02
44.0 .03
44.3 -.03
44.6 .02
44.9 -.02
45.2 .03
45.5 -.02
45.8 .02
46.1 -.03
46.4 .02
46.7 -.02
47.0 .03
47.3 -.02
47.6 .02
47.9 -.03
48.2 .03
48.5 -.02
48.8 .02
49.1 -.03
49.4 -.06
49.7 .02
50.0 .02
50.3 -.02
50.6 .03
50.9 -.02
51.2 .02
51.5 -.03
51.8 .02
52.1 -.02
52.4 .03
52.7 -.02
53.0 .02
53.3 -.03
53.6 .02
53.9 -.02
54.2 .03
54.5 -.02
54.8 .02
55.1 -.03
55.4 .02
55.7 -.02
56.0 .03
56.3 -.02
56.6 .02
56.9 -.03
57.2 .02
57.5 -.02
57.8 .03
58.1 -.02
58.4 .02
58.7 -.03
59.0 .02
59.3 -.02
59.6 .02
60 -.01
};
%----------------------------------------------------- TRIT
\nextgroupplot[yticklabels={TRIT}]
\addplot table {
0 0
1.4 0
1.8 .01
2.2 -.015
2.6 .02
3.0 -.01
3.4 .015
3.8 -.02
4.2 .01
4.6 -.015
5.0 .02
5.4 -.01
5.8 .015
6.2 -.02
6.6 .01
7.0 -.015
7.4 .02
7.8 -.01
8.2 .015
8.6 -.02
9.0 .01
9.4 -.015
9.8 .02
10.2 -.01
10.6 .015
11.0 -.02
11.4 .01
11.8 -.015
12.2 .02
12.6 -.01
13.0 .015
13.4 -.02
13.8 .01
14.2 -.015
14.6 .02
15.0 -.01
15.4 .015
15.8 -.02
16.2 .01
16.6 -.015
17.0 .02
17.4 -.01
17.8 .015
18.2 -.02
18.6 .01
19.0 -.015
19.4 .02
19.8 -.01
20.2 .015
20.6 -.02
21.0 .01
21.4 -.015
21.8 .02
22.2 -.01
22.6 .015
23.0 -.01
23.2 .1
23.26 -.15
23.32 .08
23.4 -.06
23.5 .07
23.6 -.08
23.7 .06
23.8 -.07
23.9 .09
24.0 -.06
24.1 .07
24.2 -.08
24.3 .06
24.4 -.09
24.5 .07
24.6 -.06
24.7 .08
24.8 -.07
24.9 .06
25.0 -.08
25.1 .07
25.2 -.09
25.3 .08
25.4 -.06
25.5 .09
25.6 -.07
25.7 .08
25.8 -.1
25.9 .07
26.0 -.08
26.1 .09
26.2 -.1
26.3 .08
26.4 -.09
26.5 .11
26.6 -.1
26.7 .12
26.8 -.11
26.9 .13
27.0 -.12
27.1 .14
27.2 -.16
27.3 .15
27.4 -.18
27.5 .2
27.6 -.22
27.7 .26
27.78 .46
27.84 -.33
27.9 .2
27.98 .25
28.06 -.2
28.14 .18
28.22 -.27
28.3 .17
28.38 -.2
28.46 .15
28.54 -.18
28.62 .14
28.7 -.16
28.78 .13
28.86 -.17
28.94 .15
29.02 -.12
29.1 .14
29.2 -.15
29.3 .12
29.4 -.13
29.5 .16
29.6 -.14
29.7 .22
29.8 -.12
29.9 .13
30.0 -.11
30.1 .12
30.2 -.14
30.3 .1
30.4 -.19
30.5 .11
30.6 -.1
30.7 .09
30.8 -.1
30.9 .08
31.0 -.09
31.15 .08
31.3 -.07
31.45 .09
31.6 -.08
31.75 .07
31.9 -.06
32.05 .08
32.2 -.07
32.35 .06
32.5 -.07
32.65 .08
32.8 -.06
32.95 .07
33.1 -.05
33.25 .06
33.4 -.07
33.55 .08
33.7 -.06
33.85 .05
34.0 -.06
34.2 -.14
34.35 .06
34.5 -.05
34.65 .04
34.8 -.05
35.0 .03
35.3 -.03
35.6 .025
35.9 -.02
36.2 .03
36.5 -.025
36.8 .02
37.1 -.03
37.4 .025
37.7 -.02
38.0 .03
38.3 -.02
38.6 .025
38.9 -.03
39.2 .02
39.5 -.025
39.8 .03
40.1 -.02
40.4 .025
40.7 -.03
41.0 .02
41.3 -.02
41.6 .03
41.9 -.025
42.2 .02
42.5 -.03
42.8 .025
43.1 -.02
43.4 .03
43.7 -.05
44.0 .02
44.3 -.025
44.6 .03
44.9 -.02
45.2 .025
45.5 -.03
45.8 .02
46.1 -.025
46.4 .03
46.7 -.02
47.0 .025
47.3 -.03
47.6 .02
47.9 -.02
48.2 .03
48.5 -.025
48.8 .02
49.1 -.03
49.4 .025
49.7 -.02
50.0 .03
50.3 -.025
50.6 .02
50.9 -.03
51.2 .025
51.5 -.02
51.8 .03
52.1 -.025
52.4 .02
52.7 -.03
53.0 .025
53.3 -.02
53.6 .03
53.9 -.025
54.2 .02
54.5 -.03
54.8 .025
55.1 -.02
55.4 .03
55.7 -.025
56.0 .02
56.3 -.03
56.6 .025
56.9 -.02
57.2 .03
57.5 -.025
57.8 .02
58.1 -.03
58.4 .025
58.7 -.02
59.0 .03
59.3 -.025
59.6 .03
60 -.02
};
%----------------------------------------------------- BEDO
\nextgroupplot[yticklabels={BEDO}]
\addplot table {
0 0
1.0 0
1.1 .02
1.4 -.03
1.7 .04
2.0 -.05
2.3 .03
2.6 -.04
2.9 .05
3.2 -.03
3.5 .04
3.8 -.05
4.1 .03
4.4 -.04
4.7 .05
5.0 -.03
5.3 .04
5.6 -.04
5.9 .03
6.1 -.1
6.4 .04
6.7 -.05
7.0 .03
7.3 -.04
7.6 .05
7.9 -.03
8.2 .04
8.5 -.05
8.8 .04
9.1 -.03
9.4 .05
9.7 -.04
10.0 .03
10.3 -.05
10.6 .04
10.9 -.03
11.2 .05
11.5 -.04
11.8 .03
12.1 -.05
12.4 .04
12.7 -.03
13.0 .05
13.3 -.04
13.6 .03
13.9 -.04
14.2 .05
14.5 -.03
14.8 .04
15.1 -.05
15.4 .03
15.7 -.04
16.0 .05
16.3 -.03
16.6 .04
16.9 -.05
17.2 .11
17.4 -.06
17.7 .04
18.0 -.03
18.3 .05
18.6 -.04
18.9 .03
19.2 -.05
19.5 .04
19.8 -.03
20.1 .05
20.4 -.04
20.7 .06
21.0 -.05
21.3 .04
21.6 -.03
21.9 .06
22.2 -.05
22.5 .04
22.8 -.06
23.1 .05
23.4 -.04
23.7 .06
24.0 -.05
24.1 .19
24.2 -.2
24.3 .15
24.4 -.17
24.5 .2
24.6 -.21
24.7 .18
24.8 -.15
24.9 .16
25.0 -.18
25.1 .14
25.2 -.16
25.3 .19
25.4 -.15
25.5 .17
25.6 -.14
25.7 .16
25.8 -.24
25.9 .18
26.0 -.15
26.1 .13
26.2 -.16
26.3 .18
26.4 -.14
26.5 .15
26.6 -.17
26.7 .14
26.8 -.13
26.9 .16
27.0 -.18
27.1 .2
27.2 .25
27.3 -.2
27.4 .16
27.5 -.18
27.6 .2
27.7 -.16
27.8 .22
27.9 -.19
28.0 .17
28.1 -.2
28.2 .23
28.3 -.21
28.4 .19
28.5 -.24
28.6 .22
28.7 -.2
28.8 .25
28.9 -.22
29.0 .26
29.1 -.24
29.2 .3
29.28 .45
29.34 -.34
29.42 .28
29.5 -.26
29.58 .24
29.66 -.28
29.74 .3
29.82 -.25
29.9 .27
29.98 -.3
30.06 .24
30.14 -.26
30.22 .32
30.3 -.37
30.38 .26
30.46 -.24
30.54 .28
30.62 -.22
30.7 .25
30.78 -.27
30.86 .23
30.94 -.25
31.02 .3
31.1 -.22
31.18 .24
31.26 -.28
31.34 .22
31.42 -.24
31.5 .27
31.58 -.23
31.66 .25
31.74 -.3
31.82 .23
31.9 -.26
31.98 .3
32.06 -.24
32.14 .34
32.22 -.26
32.3 .28
32.38 -.3
32.46 .25
32.54 -.27
32.62 .32
32.7 -.28
32.8 -.36
32.88 .46
32.96 -.3
33.04 .26
33.12 -.28
33.2 .32
33.28 -.25
33.36 .27
33.44 -.3
33.52 .24
33.6 -.26
33.68 .3
33.76 -.27
33.84 .25
33.92 -.29
34.0 .28
34.08 -.24
34.16 .41
34.24 -.28
34.32 .25
34.4 -.26
34.48 .22
34.56 -.24
34.64 .2
34.72 -.22
34.8 .24
34.88 -.2
34.96 .18
35.04 -.21
35.12 .17
35.2 .25
35.28 -.18
35.36 .14
35.44 -.12
35.52 .13
35.6 -.11
35.7 .12
35.8 -.1
35.9 .11
36.0 -.12
36.1 .1
36.2 -.09
36.3 .11
36.4 -.1
36.5 .09
36.6 -.11
36.7 .1
36.8 -.08
36.9 .09
37.0 -.07
37.15 .08
37.3 -.06
37.45 .07
37.6 -.08
37.75 .06
37.9 -.05
38.05 .07
38.2 -.06
38.35 .05
38.5 -.06
38.7 .05
38.9 -.04
39.1 .06
39.3 -.05
39.5 .04
39.7 -.06
39.9 .05
40.1 -.04
40.4 .05
40.7 -.04
41.0 .06
41.3 -.05
41.6 .04
41.9 -.05
42.2 .06
42.5 -.04
42.8 .05
43.1 -.05
43.4 .04
43.7 -.06
44.0 .05
44.3 -.04
44.6 .05
44.9 -.13
45.2 .04
45.5 -.05
45.8 .06
46.1 -.04
46.4 .05
46.7 -.05
47.0 .04
47.3 -.06
47.6 .05
47.9 -.04
48.2 .05
48.5 -.05
48.8 .04
49.1 -.05
49.4 .06
49.7 -.04
50.0 .05
50.3 -.05
50.6 .04
50.9 -.05
51.2 .06
51.5 -.04
51.8 .05
52.1 -.05
52.4 .04
52.7 -.06
53.0 .05
53.3 -.04
53.6 .05
53.9 -.05
54.2 .04
54.5 -.05
54.8 .06
55.1 -.04
55.4 .05
55.7 -.05
56.0 .04
56.3 -.06
56.6 .05
56.9 -.04
57.2 .06
57.5 -.05
57.8 .07
58.1 -.06
58.4 .05
58.7 -.07
59.0 .06
59.3 -.05
59.6 .07
60 -.03
};
%----------------------------------------------------- KOE
\nextgroupplot[yticklabels={KOE}]
\addplot table {
0 0
0.4 0
0.6 -.02
0.9 .02
1.2 .03
1.5 -.04
1.8 .03
2.1 -.02
2.4 .04
2.7 -.03
3.0 .03
3.3 -.05
3.6 .04
3.9 -.02
4.2 .03
4.5 -.04
4.8 .04
5.1 -.02
5.4 .03
5.7 -.03
6.0 .02
6.3 -.04
6.6 .04
6.9 -.03
7.2 .02
7.5 -.03
7.8 .03
8.1 -.02
8.4 .04
8.7 -.03
9.0 .02
9.3 -.04
9.6 .03
9.9 -.02
10.2 .03
10.5 -.03
10.8 .04
11.1 -.02
11.4 .03
11.7 -.03
12.0 .02
12.3 -.04
12.6 .03
12.9 -.02
13.2 .03
13.5 -.03
13.8 .02
14.1 -.03
14.4 .04
14.7 -.02
15.0 .03
15.3 -.04
15.6 .03
15.9 -.05
16.2 .04
16.5 -.03
16.8 .03
17.1 -.02
17.4 .04
17.7 -.03
18.0 .02
18.3 -.04
18.6 .05
18.9 -.03
19.2 .03
19.5 -.04
19.8 .02
20.1 -.03
20.4 .04
20.7 -.03
21.0 .03
21.3 -.04
21.6 .03
21.9 -.02
22.2 .04
22.5 -.03
22.8 .03
23.1 -.04
23.4 .03
23.7 -.02
24.0 .03
24.14 0
24.18 -.46
24.24 .18
24.3 -.1
24.36 .21
24.44 -.25
24.52 .16
24.6 -.12
24.7 .14
24.8 -.1
24.9 .12
25.0 -.11
25.1 .13
25.2 -.1
25.3 .11
25.4 -.12
25.5 .1
25.6 -.11
25.7 .12
25.8 -.1
25.9 .13
26.0 -.11
26.1 .1
26.2 -.12
26.3 .11
26.4 -.09
26.5 .12
26.6 -.13
26.7 .1
26.8 -.11
26.9 .12
27.0 -.1
27.1 .11
27.2 -.12
27.3 .13
27.4 -.1
27.5 .12
27.6 -.11
27.7 .1
27.8 -.13
27.9 .12
28.0 -.1
28.1 .11
28.2 -.12
28.3 .1
28.4 -.11
28.5 .13
28.6 -.12
28.7 .11
28.8 -.1
28.9 .12
29.0 -.13
29.1 .11
29.2 -.12
29.3 .14
29.4 -.13
29.5 .15
29.6 -.14
29.7 .18
29.8 -.15
29.9 .16
30.0 -.17
30.1 .15
30.2 -.16
30.3 .19
30.4 -.15
30.5 .17
30.6 -.18
30.7 .16
30.8 -.14
30.9 .18
31.0 -.16
31.1 .15
31.2 -.17
31.3 .19
31.4 -.15
31.5 .16
31.6 -.18
31.7 .17
31.8 -.14
31.9 .18
32.0 -.16
32.1 .15
32.2 -.17
32.3 .16
32.4 -.15
32.5 .18
32.6 -.16
32.7 .17
32.8 -.18
32.9 .16
33.0 -.15
33.1 .19
33.2 .24
33.28 -.17
33.36 .16
33.44 -.18
33.52 .15
33.6 -.17
33.7 .16
33.8 -.15
33.9 .18
34.0 -.16
34.1 .17
34.2 -.19
34.28 -.24
34.36 .25
34.44 -.16
34.52 .17
34.6 -.15
34.7 .16
34.8 -.14
34.9 .15
35.0 -.16
35.1 .14
35.2 -.13
35.3 .12
35.4 -.11
35.5 .12
35.6 -.1
35.7 .11
35.8 -.12
35.9 .1
36.0 -.09
36.1 .11
36.2 -.1
36.3 .09
36.4 -.11
36.5 .1
36.6 -.09
36.7 .12
36.8 -.1
36.9 .09
37.0 -.08
37.15 .1
37.3 -.09
37.45 .08
37.6 -.09
37.75 .07
37.9 -.08
38.05 .09
38.2 -.07
38.35 .08
38.5 -.06
38.65 .07
38.8 -.08
38.95 .06
39.1 -.07
39.25 .06
39.4 -.05
39.55 .06
39.7 -.05
39.9 .04
40.2 -.04
40.5 .03
40.8 -.04
41.1 .04
41.4 -.03
41.7 .03
42.0 -.04
42.3 .05
42.6 -.03
42.9 .03
43.2 -.04
43.5 .04
43.8 -.03
44.1 .03
44.4 -.04
44.7 .04
45.0 -.03
45.3 .05
45.6 -.04
45.9 .03
46.2 -.03
46.5 .04
46.8 -.04
47.1 .03
47.4 -.03
47.7 .04
48.0 -.04
48.3 .03
48.6 -.03
48.9 .04
49.2 -.04
49.5 .03
49.8 -.03
50.1 .04
50.4 -.03
50.7 .03
51.0 -.05
51.3 .04
51.6 -.03
51.9 .03
52.2 -.04
52.5 .04
52.8 -.03
53.1 .03
53.4 -.04
53.7 .04
54.0 -.03
54.3 .04
54.6 -.04
54.9 .03
55.2 -.03
55.5 .04
55.8 -.04
56.1 .03
56.4 -.03
56.7 .04
57.0 -.04
57.3 .03
57.6 -.03
57.9 .04
58.2 -.04
58.5 .03
58.8 -.03
59.1 .04
59.4 -.04
59.7 .03
60 -.02
};
%----------------------------------------------------- FACH
\nextgroupplot[yticklabels={FACH}, xlabel={Zeit[s]},
  xlabel style={at={(0.447,0)}, anchor=base, yshift=-20pt, inner sep=0pt, font=\fontsize{9.3}{11}\selectfont\bfseries}]
\addplot table {
0 0
0.5 0
0.7 -.02
1.0 .03
1.3 -.03
1.6 .04
1.9 -.02
2.2 .04
2.5 -.05
2.8 .03
3.1 -.04
3.4 .05
3.7 -.03
4.0 .04
4.3 -.05
4.6 .04
4.9 -.03
5.2 .05
5.5 -.04
5.8 .03
6.1 -.05
6.4 .06
6.7 -.07
7.0 .06
7.3 -.06
7.6 .08
7.9 -.06
8.2 .07
8.5 -.08
8.8 .06
9.1 -.05
9.4 .08
9.7 -.07
10.0 .06
10.3 -.08
10.6 .07
10.9 -.06
11.2 .08
11.5 -.07
11.8 .06
12.1 -.05
12.4 .07
12.7 -.06
13.0 .05
13.3 -.07
13.6 .06
13.9 -.05
14.2 .07
14.5 -.06
14.8 .05
15.1 -.07
15.4 .06
15.7 -.08
16.0 .05
16.3 -.06
16.6 .04
16.9 -.04
17.2 .05
17.5 -.03
17.8 .04
18.1 -.03
18.4 .03
18.7 -.04
19.0 .03
19.3 -.02
19.6 .03
19.9 -.03
20.2 .02
20.5 -.03
20.8 .03
21.1 -.02
21.4 .03
21.7 -.02
22.0 .02
22.3 -.03
22.6 .02
22.9 -.02
23.2 .03
23.5 -.02
23.8 .02
24.1 -.03
24.4 .02
24.7 -.02
25.0 .03
25.3 -.02
25.55 .02
25.62 .35
25.68 -.46
25.74 .2
25.8 -.2
25.86 .15
25.94 -.12
26.02 .13
26.1 -.11
26.2 .12
26.3 -.1
26.4 .11
26.5 -.12
26.6 .1
26.7 -.09
26.8 .11
26.9 -.1
27.0 .12
27.1 -.11
27.2 .1
27.3 -.12
27.4 .09
27.5 -.1
27.6 .11
27.7 -.09
27.8 .1
27.9 -.12
28.0 .1
28.1 -.11
28.2 .18
28.3 -.14
28.4 .1
28.5 -.11
28.6 .09
28.7 -.1
28.8 .11
28.9 -.09
29.0 .1
29.1 -.11
29.2 .09
29.3 -.1
29.4 .11
29.5 -.09
29.6 .1
29.7 -.11
29.8 .09
29.9 -.1
30.0 .11
30.1 -.09
30.2 .1
30.3 -.11
30.4 .12
30.5 -.1
30.6 .11
30.7 -.12
30.8 .1
30.9 -.11
31.0 .12
31.1 -.13
31.2 .11
31.3 -.12
31.4 .13
31.5 -.11
31.6 .14
31.7 -.12
31.8 .15
31.9 -.13
32.0 .14
32.1 -.16
32.2 .13
32.3 -.14
32.4 .16
32.5 -.15
32.6 .14
32.7 -.16
32.8 .15
32.9 -.13
33.0 .16
33.1 -.15
33.2 .14
33.3 -.16
33.4 .15
33.5 -.17
33.6 .16
33.7 -.14
33.8 .15
33.9 -.16
34.0 .22
34.1 -.15
34.2 .16
34.3 -.14
34.4 .17
34.5 -.16
34.6 .15
34.7 -.17
34.8 -.2
34.9 .16
35.0 -.15
35.1 .14
35.2 -.16
35.3 .15
35.4 -.13
35.5 .14
35.6 -.15
35.7 .13
35.8 -.14
35.9 .15
36.0 -.12
36.1 .14
36.16 .25
36.24 -.13
36.32 .12
36.4 -.1
36.5 .09
36.6 -.08
36.75 .07
36.9 -.08
37.05 .06
37.2 -.07
37.35 .06
37.5 -.05
37.65 .07
37.8 -.06
37.95 .05
38.1 -.06
38.25 .07
38.4 -.05
38.55 .06
38.7 -.05
38.85 .04
39.0 -.06
39.15 .05
39.3 -.04
39.45 .05
39.6 -.05
39.75 .04
39.9 -.05
40.05 .04
40.2 -.04
40.4 .05
40.6 -.04
40.8 .04
41.0 -.03
41.3 .04
41.6 -.03
41.9 .03
42.2 -.04
42.5 .04
42.8 -.03
43.1 .03
43.4 -.04
43.7 .05
44.0 -.03
44.3 .03
44.6 -.04
44.9 .03
45.2 -.03
45.5 .04
45.8 -.04
46.1 .03
46.4 -.03
46.7 .04
47.0 -.02
47.3 .03
47.6 -.04
47.9 .03
48.2 -.03
48.5 .04
48.8 -.03
49.1 .03
49.4 -.04
49.7 .05
50.0 -.03
50.3 .03
50.6 -.04
50.9 .03
51.2 -.03
51.5 .04
51.8 -.04
52.1 .03
52.4 -.03
52.7 .05
53.0 -.03
53.3 .04
53.6 -.04
53.9 .03
54.2 -.03
54.5 .04
54.8 -.04
55.1 .03
55.4 -.03
55.7 .04
56.0 -.04
56.3 .03
56.6 -.03
56.9 .04
57.2 -.03
57.5 .03
57.8 -.04
58.1 .04
58.4 -.03
58.7 .03
59.0 -.04
59.3 .04
59.6 -.03
60 .02
};
\end{groupplot}
\path (group c1r14.south west) ++(-43.5pt,-33.75pt) rectangle ++(501.25pt,620pt);
\end{tikzpicture}
\end{document}
